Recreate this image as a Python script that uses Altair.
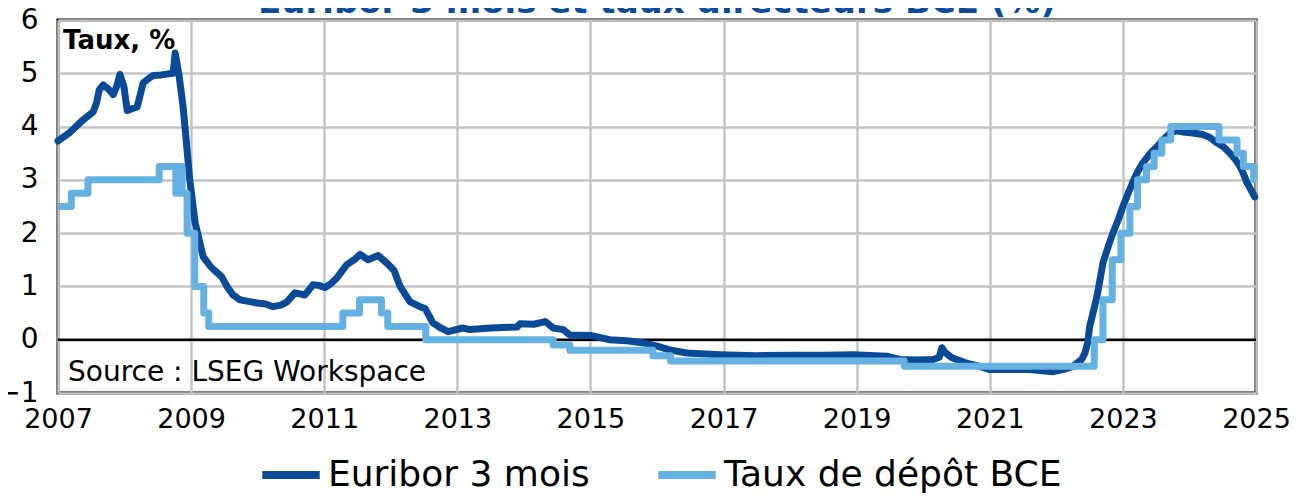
import altair as alt
import pandas as pd

# ---- data ----
series_names = ["Euribor 3 mois", "Taux de dépôt BCE"]

euribor_years = [2007.0, 2007.17, 2007.38, 2007.53, 2007.58, 2007.62, 2007.68, 2007.76, 2007.83,
                 2007.88, 2007.93, 2007.99, 2008.04, 2008.12, 2008.19, 2008.28, 2008.36, 2008.43,
                 2008.55, 2008.73, 2008.76, 2008.82, 2008.88, 2008.98, 2009.06, 2009.18, 2009.3,
                 2009.39, 2009.46, 2009.54, 2009.63, 2009.73, 2009.86, 2009.99, 2010.12, 2010.23,
                 2010.35, 2010.44, 2010.56, 2010.71, 2010.83, 2010.92, 2011.01, 2011.1, 2011.19,
                 2011.34, 2011.45, 2011.54, 2011.66, 2011.81, 2011.94, 2012.05, 2012.14, 2012.29,
                 2012.44, 2012.52, 2012.63, 2012.75, 2012.86, 2013.08, 2013.19, 2013.5, 2013.9,
                 2013.94, 2014.15, 2014.32, 2014.44, 2014.59, 2014.69, 2015.0, 2015.29, 2015.55,
                 2015.8, 2016.0, 2016.19, 2016.45, 2016.95, 2017.5, 2018.0, 2018.5, 2018.94,
                 2019.45, 2019.65, 2019.9, 2020.15, 2020.24, 2020.28, 2020.33, 2020.43, 2020.65,
                 2020.85, 2021.0, 2021.3, 2021.6, 2021.95, 2022.1, 2022.25, 2022.38, 2022.43,
                 2022.47, 2022.5, 2022.56, 2022.61, 2022.66, 2022.7, 2022.78, 2022.85, 2022.93,
                 2023.0, 2023.08, 2023.15, 2023.22, 2023.3, 2023.4, 2023.51, 2023.61, 2023.71,
                 2023.8, 2023.9, 2024.05, 2024.2, 2024.3, 2024.41, 2024.51, 2024.61, 2024.69,
                 2024.76, 2024.81, 2024.86, 2024.92, 2024.98]
euribor_values = [3.73, 3.88, 4.13, 4.28, 4.45, 4.69, 4.78, 4.70, 4.60,
                  4.75, 4.98, 4.75, 4.30, 4.34, 4.37, 4.82, 4.90, 4.96,
                  4.97, 5.00, 5.38, 4.95, 4.37, 3.00, 2.20, 1.56, 1.36,
                  1.26, 1.18, 1.00, 0.84, 0.75, 0.72, 0.69, 0.67, 0.62,
                  0.65, 0.71, 0.88, 0.84, 1.03, 1.02, 0.98, 1.05, 1.16,
                  1.41, 1.50, 1.60, 1.50, 1.58, 1.44, 1.30, 1.00, 0.71,
                  0.62, 0.58, 0.32, 0.22, 0.15, 0.22, 0.19, 0.22, 0.24,
                  0.30, 0.29, 0.34, 0.22, 0.19, 0.09, 0.08, 0.00, -0.02,
                  -0.06, -0.12, -0.19, -0.25, -0.28, -0.30, -0.29, -0.29, -0.28,
                  -0.31, -0.37, -0.38, -0.37, -0.33, -0.15, -0.24, -0.34, -0.44,
                  -0.50, -0.56, -0.56, -0.56, -0.60, -0.56, -0.50, -0.37, -0.25,
                  -0.06, 0.24, 0.55, 0.81, 1.15, 1.44, 1.75, 2.00, 2.25,
                  2.50, 2.75, 2.96, 3.15, 3.32, 3.48, 3.62, 3.76, 3.88,
                  3.92, 3.90, 3.88, 3.85, 3.80, 3.70, 3.62, 3.50, 3.38,
                  3.25, 3.12, 2.96, 2.82, 2.68]

depot_years = [2007.0, 2007.2, 2007.45, 2008.52, 2008.77, 2008.79, 2008.865, 2008.94, 2009.055,
               2009.19, 2009.265, 2011.28, 2011.53, 2011.86, 2011.955, 2012.525, 2014.44,
               2014.69, 2015.94, 2016.205, 2019.715, 2022.57, 2022.7, 2022.84, 2022.97,
               2023.105, 2023.22, 2023.355, 2023.47, 2023.585, 2023.72, 2024.445, 2024.715,
               2024.81, 2024.965, 2025.0]
depot_values = [2.50, 2.75, 3.00, 3.25, 2.75, 3.25, 2.75, 2.00, 1.00,
                0.50, 0.25, 0.50, 0.75, 0.50, 0.25, 0.00, -0.10,
                -0.20, -0.30, -0.40, -0.50, 0.00, 0.75, 1.50, 2.00,
                2.50, 3.00, 3.25, 3.50, 3.75, 4.00, 3.75, 3.50,
                3.25, 3.00, 3.00]

x_ticks = [2007, 2009, 2011, 2013, 2015, 2017, 2019, 2021, 2023, 2025]
y_ticks = [-1, 0, 1, 2, 3, 4, 5, 6]

title_text = "Euribor 3 mois et taux directeurs BCE (%)"
unit_text = "Taux, %"
source_text = "Source : LSEG Workspace"

DARK = "#0A4A97"
LIGHT = "#64B1E2"
FONT = "DejaVu Sans"

eur = pd.DataFrame({"annee": euribor_years, "taux": euribor_values, "serie": series_names[0]})
dep = pd.DataFrame({"annee": depot_years, "taux": depot_values, "serie": series_names[1]})

xscale = alt.Scale(domain=[2007, 2025], nice=False, zero=False)
yscale = alt.Scale(domain=[-1, 6], nice=False, zero=False)

xaxis = alt.Axis(values=x_ticks, format="d", title=None, grid=True, gridColor="#C4C4C4",
                 gridWidth=2.5, ticks=False, domain=False, labelFontSize=27, labelFont=FONT,
                 labelColor="black", labelPadding=13, labelFlush=False, labelOverlap=False)
yaxis = alt.Axis(values=y_ticks, format="d", title=None, grid=True, gridColor="#C4C4C4",
                 gridWidth=2.5, ticks=False, domain=False, labelFontSize=28, labelFont=FONT,
                 labelColor="black", labelPadding=20, labelAlign="right", labelFlush=False,
                 labelOverlap=False)

color = alt.Color(
    "serie:N",
    scale=alt.Scale(domain=series_names, range=[DARK, LIGHT]),
    legend=alt.Legend(
        title=None, orient="none", direction="horizontal", legendX=200, legendY=422,
        symbolType="stroke", symbolStrokeWidth=8, symbolSize=3300, labelFontSize=36,
        labelFont=FONT, labelColor="black", labelOffset=4, columnPadding=52,
        labelLimit=600,
    ),
)

zero = alt.Chart(pd.DataFrame({"y": [0]})).mark_rule(color="black", strokeWidth=2.5).encode(
    y=alt.Y("y:Q", scale=yscale, axis=yaxis)
)

line_eur = alt.Chart(eur).mark_line(strokeWidth=7, strokeJoin="round", strokeCap="round").encode(
    x=alt.X("annee:Q", scale=xscale, axis=xaxis),
    y=alt.Y("taux:Q", scale=yscale, axis=yaxis),
    color=color,
)

line_dep = alt.Chart(dep).mark_line(strokeWidth=7, interpolate="step-after", strokeJoin="round").encode(
    x=alt.X("annee:Q", scale=xscale, axis=xaxis),
    y=alt.Y("taux:Q", scale=yscale, axis=yaxis),
    color=color,
)

ann = pd.DataFrame({
    "x": [2007.075, 2007.15],
    "y": [5.456, -0.773],
    "t": [unit_text, source_text],
})
unit_lbl = alt.Chart(ann.iloc[[0]]).mark_text(
    align="left", baseline="alphabetic", fontSize=26, fontWeight="bold", font=FONT, color="black"
).encode(x=alt.X("x:Q", scale=xscale), y=alt.Y("y:Q", scale=yscale), text="t:N")
src_lbl = alt.Chart(ann.iloc[[1]]).mark_text(
    align="left", baseline="alphabetic", fontSize=28, font=FONT, color="black"
).encode(x=alt.X("x:Q", scale=xscale), y=alt.Y("y:Q", scale=yscale), text="t:N")

title_df = pd.DataFrame({"x": [2016.0], "y": [6.13], "t": [title_text]})
title_lbl = alt.Chart(title_df).mark_text(
    align="center", baseline="alphabetic", fontSize=34, fontWeight="bold", font=FONT, color="#0B4C9C"
).encode(x=alt.X("x:Q", scale=xscale), y=alt.Y("y:Q", scale=yscale), text="t:N")

chart = alt.layer(zero, line_eur, line_dep, unit_lbl, src_lbl, title_lbl).properties(
    width=1198, height=373,
    padding={"left": 50, "top": 12, "right": 34, "bottom": 108},
    autosize=alt.AutoSizeParams(type="none"),
).configure_view(stroke="black", strokeWidth=3)

chart.save("out.html", embed_options={"renderer": "svg", "actions": False})
